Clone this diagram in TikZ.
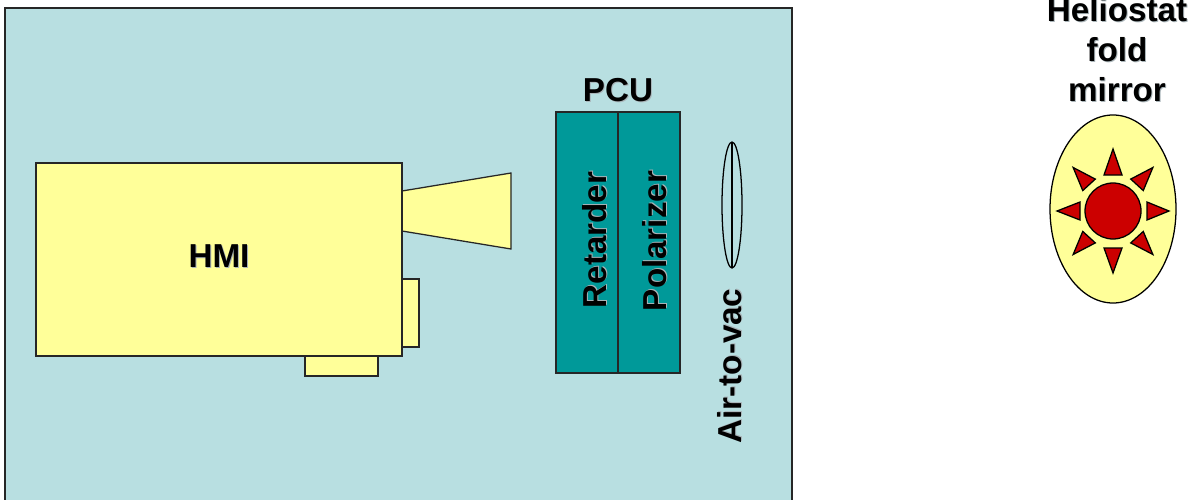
\documentclass[tikz,border=0pt]{standalone}
\usepackage{fontspec}
\setmainfont{Liberation Sans}
\usetikzlibrary{positioning}
\definecolor{panelblue}{HTML}{B8DFE1}
\definecolor{partyellow}{HTML}{FFFF99}
\definecolor{pcuteal}{HTML}{009999}
\definecolor{sunred}{HTML}{CC0000}
\definecolor{shadowgray}{HTML}{A9B4B8}
\newcommand{\shadowed}[1]{\leavevmode\rlap{\kern0.7pt\raisebox{-0.7pt}{\textcolor{shadowgray}{#1}}}#1}

\begin{document}
\begin{tikzpicture}[
    x=0.025cm, y=-0.025cm,
    part/.style={draw=black!85, line width=0.9pt, fill=partyellow},
    plate/.style={draw=black!85, line width=0.9pt, fill=pcuteal},
    sunpart/.style={draw=black, line width=0.9pt, fill=sunred},
    lbl/.style={font=\fontsize{23.6}{28.6}\selectfont\bfseries, inner sep=0pt, align=center},
  ]
  \useasboundingbox (0,0) rectangle (1194,499);

  % vacuum side
  \draw[draw=black!85, line width=0.9pt, fill=panelblue] (5,8) rectangle (792,510);

  % instrument
  \draw[part] (402,191) -- (511,173) -- (511,249) -- (402,231) -- cycle;
  \draw[part] (395,279) rectangle (419,347);
  \draw[part] (305,350) rectangle (378,376);
  \draw[part] (36,163) rectangle (402,356);
  \node[lbl] (hmi) at (219,257) {\shadowed{HMI}};

  % polarization unit
  \draw[plate] (556,112) rectangle (618,373);
  \draw[plate] (618,112) rectangle (680,373);
  \node[lbl] (pcu) at (618,91) {\shadowed{PCU}};
  \node[lbl, rotate=90] (retarder) at (595,240) {\shadowed{Retarder}};
  \node[lbl, rotate=90] (polarizer) at (655,241) {\shadowed{Polarizer}};

  % window
  \draw[line width=0.9pt] (732,205) ellipse [x radius=10, y radius=63];
  \draw[line width=0.9pt] (732,142) -- (732,268);
  \node[lbl, rotate=90] (window) at (730,366) {\shadowed{Air-to-vac}};

  % mirror
  \draw[part, draw=black] (1113,209) ellipse [x radius=63, y radius=94];
  \draw[sunpart] (1113,211) circle [radius=28];
  \foreach \ang/\tip/\base/\half in {0/56/34/9, 90/62/36/9, 180/56/33/9, 270/62/37/9,
                                     47.5/59/35.5/8.5, 132.5/59/35.5/8.5, 227.5/59/35.5/8.5, 312.5/59/35.5/8.5}
    \draw[sunpart, shift={(1113,211)}, rotate=\ang]
      (\tip,0) -- (\base,\half) -- (\base,-\half) -- cycle;
  \node[lbl] (heliostat) at (1117,50) {\shadowed{Heliostat}\\\shadowed{fold}\\\shadowed{mirror}};
\end{tikzpicture}
\end{document}
